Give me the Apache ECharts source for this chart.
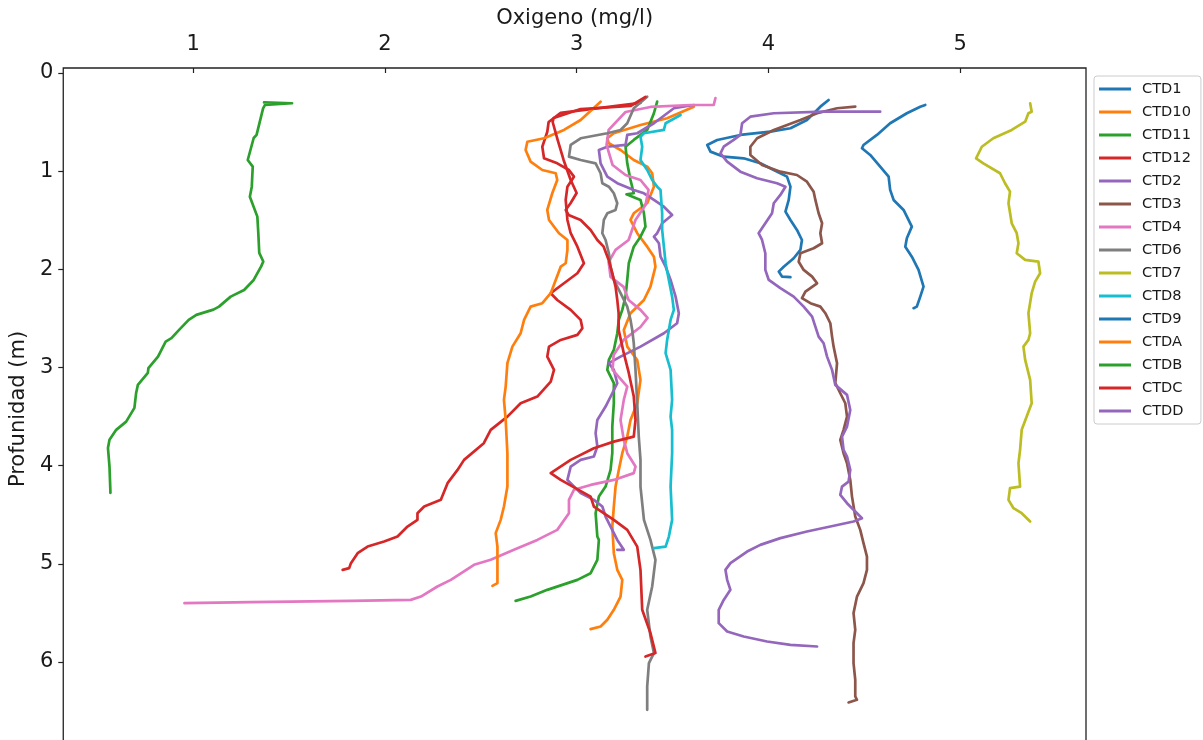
<!DOCTYPE html>
<html>
<head>
<meta charset="utf-8">
<script src="https://cdn.jsdelivr.net/npm/echarts@6/dist/echarts.min.js"></script>
<style>html,body{margin:0;padding:0;background:#fff;overflow:hidden;width:1203px;height:740px;}#chart{width:1203px;height:750px;}</style>
</head>
<body>
<div id="chart"></div>
<script>
// [oxigeno (mg/l), profundidad (m)]
const ctd1 = [[4.314,0.275],[4.271,0.343],[4.201,0.479],[4.115,0.563],[4.010,0.598],[3.854,0.631],[3.733,0.682],[3.681,0.733],[3.698,0.801],[3.767,0.852],[3.871,0.869],[3.958,0.920],[4.028,0.988],[4.097,1.056],[4.115,1.158],[4.106,1.293],[4.089,1.412],[4.115,1.497],[4.149,1.599],[4.175,1.701],[4.167,1.802],[4.132,1.887],[4.080,1.973],[4.054,2.023],[4.071,2.074],[4.115,2.080]];
const ctd10 = [[3.611,0.343],[3.472,0.461],[3.333,0.530],[3.194,0.614],[3.160,0.665],[3.168,0.716],[3.229,0.784],[3.298,0.886],[3.368,0.954],[3.394,1.021],[3.403,1.158],[3.368,1.327],[3.298,1.429],[3.281,1.497],[3.316,1.632],[3.368,1.769],[3.403,1.871],[3.411,1.973],[3.385,2.176],[3.351,2.312],[3.281,2.447],[3.246,2.617],[3.264,2.787],[3.316,2.923],[3.333,3.126],[3.316,3.364],[3.281,3.534],[3.264,3.704],[3.238,3.873],[3.220,4.043],[3.203,4.213],[3.194,4.416],[3.186,4.620],[3.194,4.891],[3.212,5.061],[3.238,5.163],[3.229,5.333],[3.194,5.468],[3.160,5.570],[3.125,5.638],[3.073,5.665]];
const ctd11 = [[3.420,0.292],[3.403,0.410],[3.368,0.580],[3.298,0.682],[3.255,0.751],[3.264,0.920],[3.281,1.090],[3.298,1.225],[3.260,1.235],[3.333,1.293],[3.351,1.429],[3.359,1.565],[3.333,1.667],[3.298,1.769],[3.272,1.938],[3.264,2.108],[3.255,2.278],[3.238,2.413],[3.220,2.515],[3.212,2.651],[3.194,2.821],[3.168,2.923],[3.160,3.024],[3.194,3.160],[3.194,3.364],[3.186,3.602],[3.186,3.873],[3.177,4.043],[3.151,4.213],[3.116,4.315],[3.099,4.484],[3.108,4.722],[3.116,4.756],[3.108,4.959],[3.073,5.095],[3.004,5.163],[2.847,5.265],[2.760,5.333],[2.682,5.377]];
const ctd12 = [[3.333,0.305],[3.125,0.356],[2.917,0.407],[2.854,0.499],[2.847,0.598],[2.821,0.751],[2.830,0.869],[2.899,0.920],[2.960,0.988],[2.986,1.056],[2.952,1.158],[2.943,1.293],[2.952,1.497],[2.969,1.632],[3.004,1.769],[3.038,1.938],[3.004,2.040],[2.934,2.142],[2.865,2.243],[2.899,2.312],[2.969,2.413],[3.021,2.515],[3.030,2.600],[3.004,2.668],[2.917,2.719],[2.856,2.787],[2.847,2.889],[2.882,3.024],[2.865,3.144],[2.795,3.296],[2.708,3.364],[2.639,3.500],[2.552,3.635],[2.516,3.771],[2.413,3.941],[2.379,4.043],[2.327,4.178],[2.292,4.348],[2.205,4.416],[2.170,4.484],[2.170,4.552],[2.118,4.620],[2.066,4.722],[1.996,4.773],[1.910,4.824],[1.858,4.891],[1.823,4.993],[1.814,5.044],[1.780,5.061]];
const ctd2 = [[3.611,0.326],[3.507,0.359],[3.403,0.512],[3.316,0.614],[3.264,0.631],[3.255,0.733],[3.160,0.751],[3.116,0.784],[3.125,0.920],[3.160,1.056],[3.212,1.123],[3.298,1.191],[3.351,1.225],[3.403,1.293],[3.455,1.362],[3.498,1.446],[3.446,1.531],[3.420,1.632],[3.403,1.667],[3.429,1.734],[3.4375,1.871],[3.464,1.973],[3.490,2.108],[3.516,2.278],[3.533,2.447],[3.524,2.549],[3.455,2.651],[3.333,2.787],[3.229,2.889],[3.168,2.956],[3.194,3.024],[3.212,3.160],[3.186,3.262],[3.151,3.398],[3.108,3.534],[3.099,3.669],[3.108,3.805],[3.090,3.907],[3.021,3.941],[2.969,4.009],[2.952,4.145],[3.021,4.280],[3.090,4.348],[3.134,4.416],[3.151,4.518],[3.177,4.620],[3.212,4.756],[3.246,4.857],[3.212,4.857]];
const ctd3 = [[4.453,0.343],[4.358,0.359],[4.254,0.410],[4.167,0.479],[4.028,0.580],[3.941,0.665],[3.906,0.751],[3.906,0.835],[3.967,0.937],[4.0625,1.005],[4.149,1.039],[4.201,1.107],[4.236,1.209],[4.245,1.293],[4.262,1.429],[4.280,1.531],[4.271,1.632],[4.280,1.734],[4.236,1.785],[4.167,1.836],[4.158,1.922],[4.184,2.006],[4.228,2.074],[4.254,2.142],[4.193,2.227],[4.175,2.294],[4.219,2.345],[4.271,2.380],[4.297,2.447],[4.323,2.549],[4.332,2.685],[4.340,2.787],[4.358,2.956],[4.349,3.160],[4.375,3.262],[4.401,3.364],[4.410,3.500],[4.392,3.635],[4.375,3.737],[4.392,3.873],[4.410,3.975],[4.427,4.145],[4.436,4.315],[4.453,4.518],[4.479,4.654],[4.496,4.789],[4.514,4.926],[4.514,5.061],[4.496,5.196],[4.462,5.333],[4.444,5.502],[4.453,5.672],[4.444,5.808],[4.444,6.011],[4.453,6.181],[4.453,6.351],[4.462,6.385],[4.418,6.412]];
const ctd4 = [[3.724,0.255],[3.715,0.326],[3.594,0.326],[3.385,0.346],[3.255,0.397],[3.167,0.580],[3.156,0.733],[3.1875,0.937],[3.255,1.039],[3.333,1.090],[3.375,1.191],[3.359,1.344],[3.307,1.497],[3.271,1.701],[3.203,1.802],[3.167,1.925],[3.177,2.077],[3.245,2.179],[3.271,2.312],[3.333,2.413],[3.370,2.495],[3.333,2.587],[3.245,2.719],[3.193,2.872],[3.1875,3.024],[3.264,3.194],[3.246,3.330],[3.229,3.534],[3.246,3.737],[3.264,3.873],[3.307,4.009],[3.298,4.076],[3.194,4.145],[3.073,4.196],[2.986,4.246],[2.960,4.348],[2.960,4.484],[2.899,4.654],[2.795,4.756],[2.673,4.857],[2.552,4.959],[2.465,5.010],[2.344,5.163],[2.274,5.231],[2.188,5.333],[2.135,5.367],[1.823,5.377],[1.302,5.390],[0.955,5.400]];
const ctd6 = [[3.368,0.241],[3.298,0.359],[3.264,0.512],[3.229,0.580],[3.160,0.614],[3.021,0.665],[2.969,0.733],[2.960,0.852],[3.021,0.886],[3.099,0.920],[3.125,1.021],[3.134,1.123],[3.168,1.158],[3.194,1.225],[3.212,1.327],[3.203,1.395],[3.160,1.429],[3.142,1.497],[3.134,1.632],[3.151,1.701],[3.168,1.836],[3.177,1.973],[3.194,2.108],[3.229,2.243],[3.264,2.380],[3.281,2.515],[3.290,2.617],[3.298,2.753],[3.307,3.024],[3.316,3.364],[3.324,3.704],[3.333,3.941],[3.333,4.213],[3.351,4.552],[3.385,4.756],[3.411,4.959],[3.394,5.231],[3.368,5.468],[3.385,5.740],[3.403,5.909],[3.377,6.011],[3.368,6.249],[3.368,6.487]];
const ctd7 = [[5.365,0.309],[5.373,0.394],[5.356,0.410],[5.339,0.496],[5.269,0.580],[5.173,0.665],[5.113,0.751],[5.083,0.869],[5.121,0.920],[5.208,1.021],[5.234,1.123],[5.260,1.209],[5.252,1.327],[5.269,1.531],[5.295,1.632],[5.304,1.734],[5.295,1.836],[5.339,1.904],[5.408,1.922],[5.417,2.040],[5.391,2.125],[5.373,2.243],[5.356,2.447],[5.365,2.651],[5.356,2.719],[5.330,2.787],[5.339,2.923],[5.365,3.126],[5.373,3.364],[5.347,3.500],[5.321,3.635],[5.3125,3.839],[5.304,3.975],[5.3125,4.213],[5.260,4.229],[5.252,4.348],[5.278,4.433],[5.321,4.484],[5.365,4.569]];
const ctd8 = [[3.542,0.428],[3.464,0.512],[3.455,0.580],[3.351,0.614],[3.333,0.649],[3.342,0.751],[3.333,0.886],[3.368,0.988],[3.394,1.090],[3.420,1.158],[3.4375,1.191],[3.446,1.429],[3.446,1.599],[3.455,1.769],[3.464,1.938],[3.481,2.108],[3.498,2.278],[3.507,2.413],[3.490,2.515],[3.472,2.719],[3.464,2.854],[3.490,3.024],[3.498,3.330],[3.490,3.500],[3.498,3.635],[3.498,3.873],[3.490,4.213],[3.498,4.552],[3.481,4.722],[3.464,4.824],[3.403,4.840]];
const ctd9 = [[4.818,0.326],[4.792,0.343],[4.722,0.410],[4.635,0.512],[4.566,0.631],[4.496,0.733],[4.488,0.767],[4.531,0.835],[4.583,0.954],[4.627,1.056],[4.635,1.191],[4.653,1.293],[4.705,1.395],[4.748,1.565],[4.722,1.683],[4.714,1.769],[4.748,1.871],[4.783,2.006],[4.809,2.176],[4.792,2.278],[4.774,2.380],[4.757,2.396]];
const ctdA = [[3.125,0.292],[3.021,0.479],[2.934,0.580],[2.830,0.665],[2.743,0.700],[2.734,0.784],[2.760,0.903],[2.821,0.988],[2.891,1.021],[2.899,1.090],[2.873,1.225],[2.847,1.395],[2.856,1.497],[2.908,1.632],[2.952,1.701],[2.952,1.802],[2.943,1.938],[2.917,1.973],[2.891,2.108],[2.865,2.243],[2.821,2.345],[2.760,2.380],[2.726,2.515],[2.708,2.651],[2.665,2.787],[2.639,2.956],[2.630,3.194],[2.621,3.330],[2.630,3.534],[2.639,3.873],[2.639,4.213],[2.621,4.416],[2.604,4.552],[2.578,4.687],[2.587,4.824],[2.587,5.061],[2.587,5.196],[2.561,5.224]];
const ctdB = [[1.370,0.300],[1.516,0.308],[1.375,0.325],[1.365,0.360],[1.331,0.631],[1.316,0.662],[1.285,0.886],[1.311,0.954],[1.306,1.158],[1.296,1.260],[1.335,1.463],[1.340,1.630],[1.345,1.833],[1.366,1.920],[1.355,1.970],[1.316,2.108],[1.266,2.210],[1.196,2.278],[1.135,2.380],[1.106,2.410],[1.017,2.464],[0.977,2.515],[0.927,2.617],[0.887,2.701],[0.857,2.736],[0.817,2.889],[0.767,3.007],[0.764,3.055],[0.712,3.177],[0.703,3.259],[0.694,3.411],[0.651,3.551],[0.599,3.635],[0.564,3.737],[0.556,3.819],[0.564,4.009],[0.569,4.277]];
const ctdC = [[3.359,0.244],[3.281,0.336],[3.021,0.367],[2.880,0.458],[2.875,0.499],[2.901,0.682],[2.932,0.886],[2.969,1.090],[3.000,1.222],[2.969,1.324],[2.943,1.395],[2.958,1.446],[3.021,1.497],[3.073,1.599],[3.108,1.701],[3.141,1.769],[3.167,1.904],[3.186,2.040],[3.203,2.176],[3.212,2.312],[3.219,2.447],[3.219,2.617],[3.246,2.854],[3.272,3.055],[3.298,3.296],[3.307,3.534],[3.298,3.704],[3.194,3.755],[3.090,3.822],[2.969,3.941],[2.865,4.076],[2.917,4.145],[3.073,4.315],[3.090,4.416],[3.194,4.552],[3.264,4.654],[3.316,4.824],[3.333,5.061],[3.342,5.468],[3.385,5.706],[3.411,5.909],[3.359,5.944]];
const ctdD = [[4.583,0.394],[4.288,0.394],[4.028,0.410],[3.906,0.445],[3.863,0.512],[3.854,0.631],[3.819,0.682],[3.767,0.751],[3.750,0.818],[3.785,0.903],[3.854,1.005],[3.941,1.072],[4.045,1.123],[4.089,1.158],[4.0625,1.242],[4.028,1.327],[4.019,1.429],[3.984,1.531],[3.949,1.632],[3.967,1.701],[3.984,1.836],[3.984,2.006],[4.002,2.108],[4.0625,2.192],[4.132,2.278],[4.184,2.380],[4.228,2.482],[4.245,2.583],[4.262,2.685],[4.288,2.753],[4.306,2.889],[4.332,3.024],[4.349,3.177],[4.410,3.279],[4.427,3.432],[4.410,3.602],[4.384,3.704],[4.392,3.839],[4.410,3.907],[4.427,4.043],[4.418,4.162],[4.384,4.213],[4.375,4.297],[4.410,4.382],[4.453,4.467],[4.488,4.535],[4.444,4.569],[4.323,4.620],[4.201,4.671],[4.0625,4.738],[3.958,4.807],[3.889,4.875],[3.802,4.993],[3.776,5.061],[3.785,5.163],[3.802,5.265],[3.767,5.367],[3.741,5.468],[3.741,5.604],[3.785,5.689],[3.871,5.740],[3.993,5.791],[4.115,5.825],[4.254,5.842]];

const seriesNames = ['CTD1','CTD10','CTD11','CTD12','CTD2','CTD3','CTD4','CTD6','CTD7','CTD8','CTD9','CTDA','CTDB','CTDC','CTDD'];
const seriesData = [ctd1, ctd10, ctd11, ctd12, ctd2, ctd3, ctd4, ctd6, ctd7, ctd8, ctd9, ctdA, ctdB, ctdC, ctdD];
const xTicks = [1, 2, 3, 4, 5];
const yTicks = [0, 1, 2, 3, 4, 5, 6];

const tab10 = ['#1f77b4','#ff7f0e','#2ca02c','#d62728','#9467bd','#8c564b','#e377c2','#7f7f7f','#bcbd22','#17becf'];
const FONT = 'DejaVu Sans';
const TXT = '#1a1a1a';

const chart = echarts.init(document.getElementById('chart'), null, {renderer: 'canvas'});
chart.setOption({
  animation: false,
  backgroundColor: '#ffffff',
  color: tab10,
  grid: {left: 62, top: 68, right: 117, bottom: 0, show: true, borderColor: '#222', borderWidth: 1.3, backgroundColor: 'transparent'},
  xAxis: {
    type: 'value', position: 'top', min: 62/192, max: 1086/192,
    name: 'Oxigeno (mg/l)', nameLocation: 'middle', nameGap: 34,
    nameTextStyle: {fontFamily: FONT, fontSize: 21, color: TXT},
    axisLine: {show: false},
    axisTick: {show: true, inside: false, length: 5, customValues: xTicks, lineStyle: {color: '#222', width: 1.2}},
    axisLabel: {customValues: xTicks, margin: 13, fontFamily: FONT, fontSize: 21, color: TXT},
    splitLine: {show: false}
  },
  yAxis: {
    type: 'value', inverse: true, min: -5/98.17, max: 677/98.17,
    name: 'Profunidad (m)', nameLocation: 'middle', nameGap: 31,
    nameTextStyle: {fontFamily: FONT, fontSize: 21, color: TXT},
    axisLine: {show: false},
    axisTick: {show: true, inside: false, length: 5, customValues: yTicks, lineStyle: {color: '#222', width: 1.2}},
    axisLabel: {customValues: yTicks, margin: 10, fontFamily: FONT, fontSize: 21, color: TXT},
    splitLine: {show: false}
  },
  legend: {
    orient: 'vertical', left: 1094, top: 76,
    padding: [5, 10, 5, 5],
    itemGap: 7, itemWidth: 32, itemHeight: 3, icon: 'rect',
    backgroundColor: 'rgba(255,255,255,0.8)', borderColor: '#cccccc', borderWidth: 1, borderRadius: 3,
    textStyle: {fontFamily: FONT, fontSize: 14.6, color: TXT, lineHeight: 16, padding: [0, 0, 0, 6]},
    data: seriesNames
  },
  series: seriesNames.map((n, i) => ({
    name: n, type: 'line', data: seriesData[i],
    showSymbol: false, symbol: 'none', smooth: false,
    lineStyle: {width: 2.7, color: tab10[i % 10], cap: 'round', join: 'round'},
    itemStyle: {color: tab10[i % 10]},
    emphasis: {disabled: true}
  }))
});
</script>
</body>
</html>
